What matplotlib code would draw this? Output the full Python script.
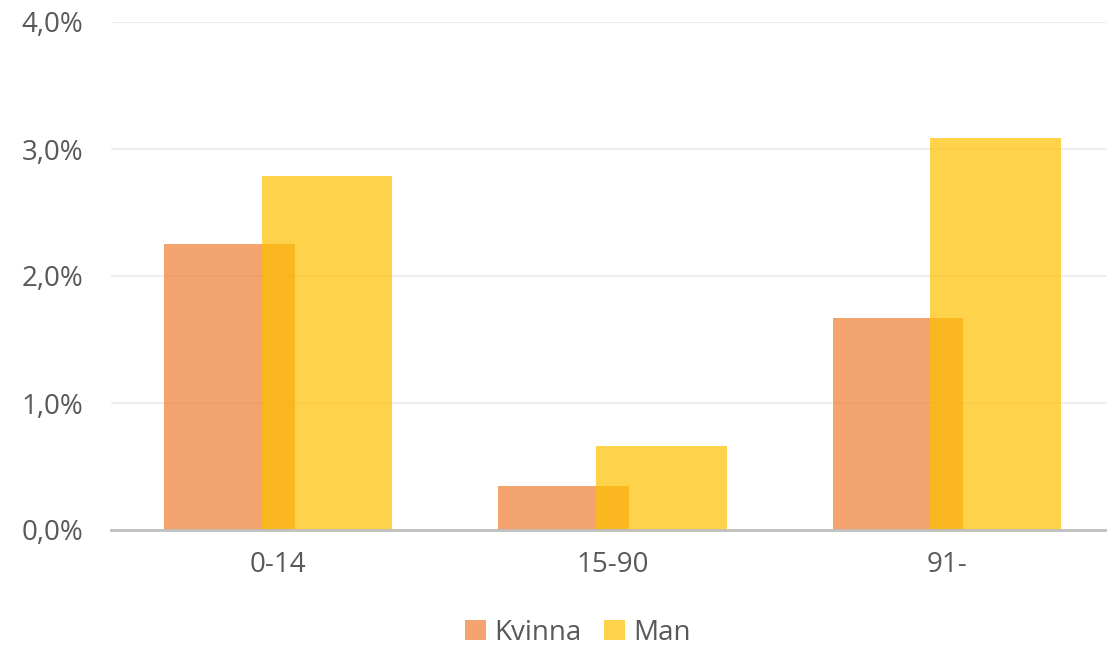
import matplotlib
matplotlib.use("Agg")
import matplotlib.pyplot as plt
import numpy as np
from matplotlib.ticker import FuncFormatter

categories = ["0-14", "15-90", "91-"]
kvinna = [2.25, 0.35, 1.67]
man = [2.79, 0.66, 3.09]
yticks = [0, 1, 2, 3, 4]

plt.rcParams['font.family'] = ['Open Sans', 'DejaVu Sans']
txt = '#595959'
fs = 20

fig = plt.figure(figsize=(11.07, 6.51), dpi=100)
ax = fig.add_axes([111/1107, 1-530/651, (1114-111)/1107, (530-22)/651])

x = np.arange(len(categories))
w = 0.39
off = 0.146
ax.bar(x - off, kvinna, width=w, color='#ED7D31', alpha=0.7, label='Kvinna', zorder=2)
ax.bar(x + off, man, width=w, color='#FFC000', alpha=0.7, label='Man', zorder=3)

ax.set_ylim(0, 4)
ax.set_xlim(-0.5, 2.5)
ax.set_yticks(yticks)
ax.yaxis.set_major_formatter(FuncFormatter(lambda v, p: f"{v:.1f}%".replace('.', ',')))
ax.set_xticks(x)
ax.set_xticklabels(categories)
ax.tick_params(axis='both', length=0, labelsize=fs, colors=txt)
ax.tick_params(axis='y', pad=20)
ax.tick_params(axis='x', pad=15)
ax.grid(axis='y', color='#EBEBEB', linewidth=1.2, zorder=0)
ax.set_axisbelow(True)
for s in ['top', 'right', 'left']:
    ax.spines[s].set_visible(False)
ax.spines['bottom'].set_color('#BFBFBF')
ax.spines['bottom'].set_linewidth(2)
ax.spines['bottom'].set_zorder(4)

fig.legend(loc='center', bbox_to_anchor=(0.522, 1-633/651), ncol=2, frameon=False,
           fontsize=fs, labelcolor=txt, handlelength=0.75, handleheight=0.75,
           handletextpad=0.3, columnspacing=0.8)

fig.savefig('out.png', dpi=100)
